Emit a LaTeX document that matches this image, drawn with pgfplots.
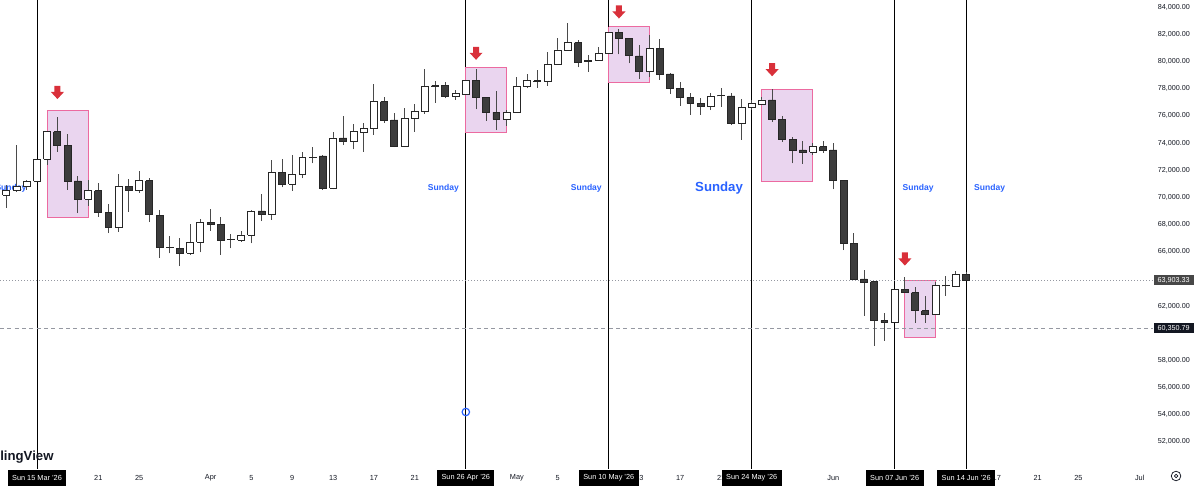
\documentclass[border=0pt]{standalone}
\usepackage{pgfplots}
\pgfplotsset{compat=1.18}
\usepackage{pgfplotstable}
\usepackage{fontspec}
\setmainfont{Liberation Sans}
\definecolor{tvtext}{HTML}{131722}
\definecolor{tvblue}{HTML}{2962FF}
\definecolor{upfill}{HTML}{FFFFFF}
\definecolor{dnfill}{HTML}{3C3C3C}
\definecolor{wickcol}{HTML}{4A4A4A}
\definecolor{boxfill}{HTML}{EAD5EF}
\definecolor{boxdraw}{HTML}{EC6AA0}
\definecolor{arrowred}{HTML}{D9303A}
\definecolor{lvlgrey}{HTML}{9598A1}
\definecolor{lastbox}{HTML}{474747}

\pgfdeclareplotmark{dnarrow}{%
 \pgfpathmoveto{\pgfpoint{-2.25pt}{4.9pt}}%
 \pgfpathlineto{\pgfpoint{2.25pt}{4.9pt}}%
 \pgfpathlineto{\pgfpoint{2.25pt}{0.4pt}}%
 \pgfpathlineto{\pgfpoint{4.9pt}{0.4pt}}%
 \pgfpathlineto{\pgfpoint{0pt}{-4.9pt}}%
 \pgfpathlineto{\pgfpoint{-4.9pt}{0.4pt}}%
 \pgfpathlineto{\pgfpoint{-2.25pt}{0.4pt}}%
 \pgfpathclose
 \pgfusepathqfill}

% daily candles: d = days from Sun 15 Mar '26
\pgfplotstableread{
d O H L C
-3 70174 70911 69217 70491
-2 70543 73857 70395 70837
-1 70837 71279 70543 71206
0 71206 72826 71132 72804
1 72804 74860 72384 74837
2 74837 75942 73364 73857
3 73857 74668 70543 71206
4 71206 71574 68848 69880
5 69880 71279 69364 70491
6 70491 71058 68576 68870
7 68870 69511 67375 67795
8 67795 71721 67471 70786
9 70786 71353 68944 70491
10 70491 71942 70344 71227
11 71227 71427 68185 68775
12 68701 69069 65570 66307
13 66322 67176 65880 66285
14 66248 66985 64944 65880
15 65880 68038 65755 66690
16 66690 68428 65953 68163
17 68163 69143 67545 68038
18 67987 68576 65755 66860
19 66911 67280 66248 66896
20 66860 67523 66734 67228
21 67228 69069 66616 68996
22 68996 70248 68259 68775
23 68775 72716 68333 71868
24 71868 72804 70727 70985
25 70985 73084 70469 71721
26 71721 73364 71404 72951
27 72973 73732 72509 72951
28 73047 73100 70543 70690
29 70690 74837 70594 74373
30 74373 75993 73857 74100
31 74100 75382 73541 74837
32 74815 75500 73364 75088
33 75088 78328 74594 77047
34 77047 77371 75500 75647
35 75699 76237 73700 73784
36 73784 76561 73700 75824
37 75824 76900 74837 76310
38 76310 79441 76163 78152
39 78225 78594 76973 78203
40 78240 78520 77297 77415
41 77415 77887 77172 77651
42 77614 78680 77560 78623
43 78623 79433 76487 77371
44 77371 77420 75647 76266
45 76266 77857 74962 75750
46 75750 76435 75257 76266
47 76266 78844 76220 78152
48 78152 79087 78034 78594
49 78594 79382 78078 78535
50 78572 80730 78225 79802
51 79802 81717 79750 80855
52 80855 82807 80800 81393
53 81393 81592 79566 79920
54 80118 80487 79257 79993
55 80118 81039 80080 80612
56 80612 82200 80580 82159
57 82159 82380 80538 81717
58 81717 81760 79875 80435
59 80413 81223 78719 79257
60 79257 81960 78888 80980
61 80980 81643 78645 79087
62 79087 79183 77614 78034
63 78034 78520 76730 77371
64 77371 77710 76067 76929
65 76929 77341 76067 76730
66 76730 77710 76435 77415
67 77503 78034 76679 77481
68 77467 77666 75330 75441
69 75441 77224 74262 76605
70 76605 77135 76435 76929
71 76877 77415 76804 77172
72 77172 77960 75574 75772
73 75772 75993 74100 74277
74 74277 74424 72509 73437
75 73489 74174 72458 73320
76 73320 73982 73121 73732
77 73732 74152 73290 73489
78 73489 73982 70594 71227
79 71227 71280 66123 66616
80 66616 67353 63930 63987
81 63987 64650 61284 63744
82 63788 63840 59052 60915
83 60915 61460 59443 60797
84 60797 63280 60750 63228
85 63228 64112 62978 62978
86 62978 63420 60768 61652
87 61652 62735 60768 61387
88 61387 63744 61350 63494
89 63494 64230 62735 63480
90 63471 64598 63430 64333
91 64333 64525 63880 63903
}\candles

\begin{document}
\begin{tikzpicture}
\begin{axis}[
  name=ax, at={(0,0)}, anchor=south west,
  scale only axis, width=855pt, height=351.75pt,
  xmin=-3.624, xmax=108.03, ymin=49992, ymax=84538,
  clip=false,
  axis line style={draw=none},
  major tick length=0pt,
  tick style={draw=none},
  scaled y ticks=false,
  ytick={52000,54000,56000,58000,62000,66000,68000,70000,72000,74000,76000,78000,80000,82000,84000},
  yticklabel pos=right,
  y tick label style={/pgf/number format/fixed, /pgf/number format/fixed zerofill,
     /pgf/number format/precision=2, /pgf/number format/1000 sep={,},
     /pgf/number format/assume math mode=true},
  yticklabel style={font=\fontsize{5.4}{6.5}\selectfont, text=tvtext, anchor=east, xshift=41pt},
  xtick={6,10,17,21,25,29,33,37,47,51,59,63,67,78,94,98,102,108},
  xticklabels={21,25,Apr,5,9,13,17,21,May,5,13,17,21,Jun,17,21,25,Jul},
  xticklabel style={font=\fontsize{5.5}{6.5}\selectfont, text=tvtext, anchor=center, yshift=-6.75pt},
  extra x ticks={0,42,56,70,84,91},
  extra x tick labels={Sun 15 Mar '26,Sun 26 Apr '26,Sun 10 May '26,Sun 24 May '26,Sun 07 Jun '26,Sun 14 Jun '26},
  extra x tick style={grid=major, major grid style={draw=black, line width=0.75pt},
     xticklabel style={fill=black, text=white, inner xsep=3.3pt, minimum height=12.5pt}},
]
% highlighted boxes
\addplot[fill=boxfill, draw=boxdraw, line width=0.75pt] coordinates {(1,76362) (5,76362) (5,68532) (1,68532) (1,76362)};
\addplot[fill=boxfill, draw=boxdraw, line width=0.75pt] coordinates {(42,79581) (46,79581) (46,74763) (42,74763) (42,79581)};
\addplot[fill=boxfill, draw=boxdraw, line width=0.75pt] coordinates {(56,82571) (60,82571) (60,78476) (56,78476) (56,82571)};
\addplot[fill=boxfill, draw=boxdraw, line width=0.75pt] coordinates {(71,77960) (76,77960) (76,71154) (71,71154) (71,77960)};
\addplot[fill=boxfill, draw=boxdraw, line width=0.75pt] coordinates {(85,63840) (88,63840) (88,59692) (85,59692) (85,63840)};
% price levels
\addplot[lvlgrey, line width=0.6pt, dash pattern=on 0.75pt off 1.5pt] coordinates {(-3.624,63903.33) (109.3,63903.33)};
\addplot[lvlgrey, line width=0.6pt, dash pattern=on 3pt off 2.5pt] coordinates {(-3.624,60350.79) (109.3,60350.79)};
% Sunday labels
\node[text=tvblue, font=\bfseries\fontsize{6.4}{7}\selectfont] at (axis cs:-2.55,70690) {Sunday};
\node[text=tvblue, font=\bfseries\fontsize{6.4}{7}\selectfont] at (axis cs:39.8,70690) {Sunday};
\node[text=tvblue, font=\bfseries\fontsize{6.4}{7}\selectfont] at (axis cs:53.8,70690) {Sunday};
\node[text=tvblue, font=\bfseries\fontsize{9.9}{11}\selectfont] at (axis cs:66.8,70690) {Sunday};
\node[text=tvblue, font=\bfseries\fontsize{6.4}{7}\selectfont] at (axis cs:86.3,70690) {Sunday};
\node[text=tvblue, font=\bfseries\fontsize{6.4}{7}\selectfont] at (axis cs:93.3,70690) {Sunday};
% candles
\pgfplotstablegetrowsof{\candles}
\pgfmathtruncatemacro{\lastrow}{\pgfplotsretval-1}
\pgfplotsinvokeforeach{0,...,\lastrow}{%
  \pgfplotstablegetelem{#1}{d}\of\candles \let\cD\pgfplotsretval
  \pgfplotstablegetelem{#1}{O}\of\candles \let\cO\pgfplotsretval
  \pgfplotstablegetelem{#1}{H}\of\candles \let\cH\pgfplotsretval
  \pgfplotstablegetelem{#1}{L}\of\candles \let\cL\pgfplotsretval
  \pgfplotstablegetelem{#1}{C}\of\candles \let\cC\pgfplotsretval
  \pgfmathsetmacro{\xa}{\cD-0.34}%
  \pgfmathsetmacro{\xb}{\cD+0.34}%
  \ifnum\cC<\cO\relax \def\bodyfill{dnfill}\else\def\bodyfill{upfill}\fi
  \edef\doplot{%
    \noexpand\addplot[draw=wickcol, line width=0.75pt] coordinates {(\cD,\cL) (\cD,\cH)};
    \noexpand\addplot[fill=\bodyfill, draw=black!85, line width=0.7pt, line join=miter] coordinates {(\xa,\cO) (\xb,\cO) (\xb,\cC) (\xa,\cC) (\xa,\cO)};
  }%
  \doplot
}
% arrows
\addplot[only marks, mark=dnarrow, color=arrowred] coordinates {(2,77724) (43,80612) (57,83654) (72,79404) (85,65460)};
% anchor point
\addplot[only marks, mark=o, mark size=2.8pt, mark options={draw=tvblue, fill=white, line width=0.9pt}] coordinates {(42,54190)};
% price labels
\node[anchor=east, xshift=40.5pt, fill=lastbox, text=white, font=\fontsize{5.4}{6.5}\selectfont, inner xsep=3pt, inner ysep=1.6pt] at (axis cs:108.03,63903.33) {63,903.33};
\node[anchor=east, xshift=40.5pt, fill=tvtext, text=white, font=\fontsize{5.4}{6.5}\selectfont, inner xsep=3pt, inner ysep=1.6pt] at (axis cs:108.03,60350.79) {60,350.79};
% logo text and settings icon
\node[anchor=west, inner sep=0pt, text=tvtext, font=\bfseries\fontsize{9.9}{11}\selectfont] at (axis cs:-3.624,50876) {lingView};
\draw[tvtext, line width=0.55pt] (axis cs:111.56,49476) circle[radius=3.6pt];
\draw[tvtext, line width=0.55pt] (axis cs:111.56,49476) circle[radius=1.3pt];
\end{axis}
\pgfresetboundingbox
\useasboundingbox ([yshift=-17.25pt]ax.south west) rectangle ([xshift=45pt]ax.north east);
\end{tikzpicture}
\end{document}
